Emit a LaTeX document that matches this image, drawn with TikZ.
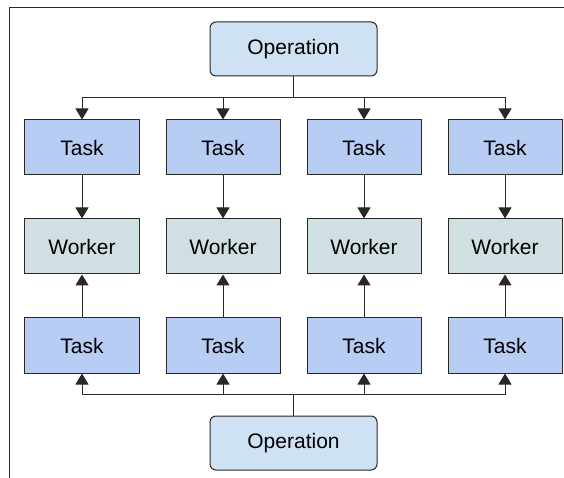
\documentclass[tikz,border=0pt]{standalone}
\usepackage{fontspec}
\setmainfont{Liberation Sans}
\usepackage{xcolor}
\usetikzlibrary{arrows.meta, positioning, calc}

\definecolor{taskblue}{RGB}{183,205,243}
\definecolor{workergray}{RGB}{208,223,226}
\definecolor{opblue}{RGB}{207,226,243}
\definecolor{linegray}{RGB}{40,40,40}

\begin{document}
\begin{tikzpicture}[
  node distance=43pt and 26pt,
  taskbox/.style={rectangle, draw=linegray, fill=taskblue, line width=1pt, minimum width=114pt, minimum height=55pt, text centered, font=\fontsize{21}{25}\selectfont},
  workerbox/.style={taskbox, fill=workergray},
  opbox/.style={rectangle, draw=linegray, fill=opblue, line width=1pt, minimum width=167pt, minimum height=54pt, text centered, rounded corners=6pt, font=\fontsize{21}{25}\selectfont},
  arrow/.style={draw=linegray, line width=1pt, -{Triangle[width=13pt,length=11pt]}}
]

% top row of tasks
\node (task1) [taskbox] {Task};
\node (task2) [taskbox, right=of task1] {Task};
\node (task3) [taskbox, right=of task2] {Task};
\node (task4) [taskbox, right=of task3] {Task};

% workers
\node (worker1) [workerbox, below=of task1] {Worker};
\node (worker2) [workerbox, below=of task2] {Worker};
\node (worker3) [workerbox, below=of task3] {Worker};
\node (worker4) [workerbox, below=of task4] {Worker};

% bottom row of tasks
\node (low1) [taskbox, below=of worker1] {Task};
\node (low2) [taskbox, below=of worker2] {Task};
\node (low3) [taskbox, below=of worker3] {Task};
\node (low4) [taskbox, below=of worker4] {Task};

% operations
\coordinate (midTop) at ($(task2.north)!0.5!(task3.north)$);
\coordinate (midBot) at ($(low2.south)!0.5!(low3.south)$);
\node (opTop) [opbox, above=of midTop] {Operation};
\node (opBot) [opbox, below=42pt of midBot] {Operation};

% page and frame
\coordinate (nw) at ($(task1.center)+(-82pt,147.5pt)$);
\useasboundingbox (nw) rectangle ++(564pt,-478pt);
\draw [linegray, line width=1pt] ($(nw)+(10pt,-478pt)$) |- ($(nw)+(564pt,-7.5pt)$);

% connectors
\coordinate (busTop) at ($(opTop.south)!0.5!(midTop)$);
\coordinate (busBot) at ($(opBot.north)!0.5!(midBot)$);
\foreach \i in {1,2,3,4} {
  \draw [arrow] (opTop.south) -- (opTop.south |- busTop) -| (task\i.north);
  \draw [arrow] (task\i) -- (worker\i);
  \draw [arrow] (low\i) -- (worker\i);
  \draw [arrow] (opBot.north) -- (opBot.north |- busBot) -| (low\i.south);
}
\end{tikzpicture}
\end{document}
